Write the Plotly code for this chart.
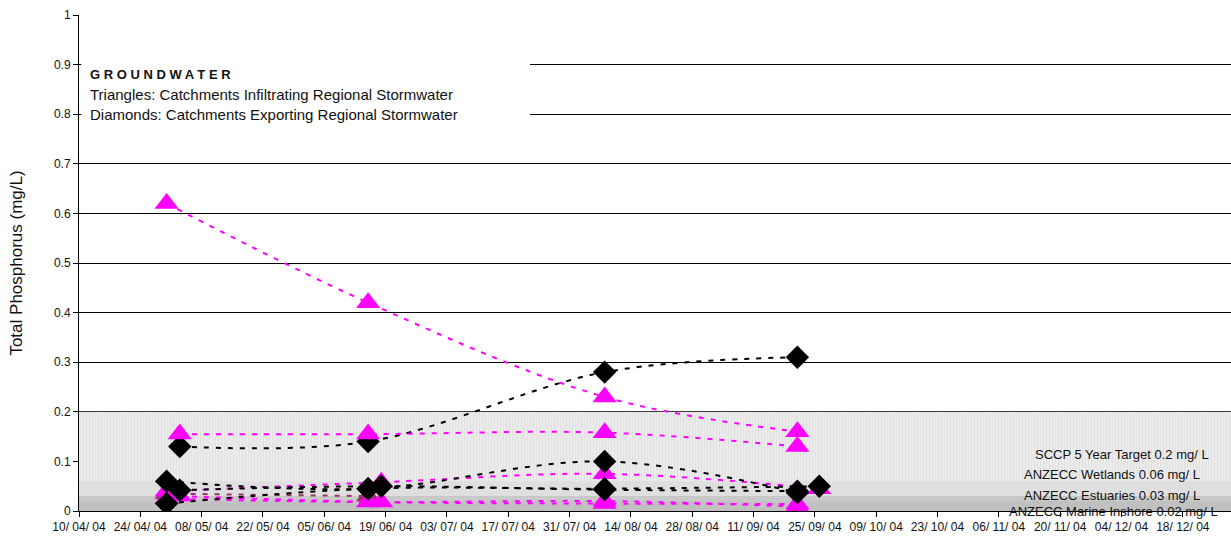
import plotly.graph_objects as go

# ---------------- data ----------------
# sampling dates
d_a1, d_a2 = "2004-04-30", "2004-05-03"
d_b1, d_b2 = "2004-06-15", "2004-06-18"
d_c = "2004-08-08"
d_d1, d_d2 = "2004-09-21", "2004-09-26"

# Triangles: catchments infiltrating regional stormwater
tri1_dates = [d_a1, d_b1, d_c, d_d1]
tri1_tp = [0.62, 0.42, 0.23, 0.16]
tri2_dates = [d_a2, d_b1, d_c, d_d1]
tri2_tp = [0.155, 0.155, 0.158, 0.13]
tri3_dates = [d_a1, d_b2, d_c, d_d2]
tri3_tp = [0.04, 0.058, 0.075, 0.045]
tri4_dates = [d_a1, d_b1, d_c, d_d1]
tri4_tp = [0.025, 0.018, 0.02, 0.009]
tri5_dates = [d_a2, d_b2, d_c, d_d1]
tri5_tp = [0.03, 0.018, 0.015, 0.014]
tri6_dates = [d_a1, d_b1]
tri6_tp = [0.035, 0.03]

# Diamonds: catchments exporting regional stormwater
dia1_dates = [d_a2, d_b1, d_c, d_d1]
dia1_tp = [0.13, 0.14, 0.28, 0.31]
dia2_dates = [d_a1, d_b1, d_c, d_d1]
dia2_tp = [0.06, 0.045, 0.10, 0.037]
dia3_dates = [d_a2, d_b2, d_c, d_d1]
dia3_tp = [0.042, 0.05, 0.043, 0.04]
dia4_dates = [d_a1, d_b1, d_c, d_d2]
dia4_tp = [0.015, 0.045, 0.045, 0.05]

# guideline bands
guide_values = [0.2, 0.06, 0.03, 0.02]
guide_labels = ["SCCP 5 Year Target 0.2 mg/ L", "ANZECC Wetlands 0.06 mg/ L",
                "ANZECC Estuaries 0.03 mg/ L", "ANZECC Marine Inshore 0.02 mg/ L"]

x_range = ["2004-04-10", "2004-12-29"]
x_tick_dates = ["2004-04-10", "2004-04-24", "2004-05-08", "2004-05-22", "2004-06-05",
                "2004-06-19", "2004-07-03", "2004-07-17", "2004-07-31", "2004-08-14",
                "2004-08-28", "2004-09-11", "2004-09-25", "2004-10-09", "2004-10-23",
                "2004-11-06", "2004-11-20", "2004-12-04", "2004-12-18"]
x_tick_labels = ["10/ 04/ 04", "24/ 04/ 04", "08/ 05/ 04", "22/ 05/ 04", "05/ 06/ 04",
                 "19/ 06/ 04", "03/ 07/ 04", "17/ 07/ 04", "31/ 07/ 04", "14/ 08/ 04",
                 "28/ 08/ 04", "11/ 09/ 04", "25/ 09/ 04", "09/ 10/ 04", "23/ 10/ 04",
                 "06/ 11/ 04", "20/ 11/ 04", "04/ 12/ 04", "18/ 12/ 04"]

# ---------------- figure ----------------
FONT = "Liberation Sans, Arial, sans-serif"
MAG = "#FF00FF"
DASH = "5px,7px"

fig = go.Figure()

# bands
band_styles = [
    dict(fillcolor="#e9e9e9", fillpattern=dict(shape="|", fgcolor="#d6d6d6", bgcolor="#ebebeb", size=3, solidity=0.3)),
    dict(fillcolor="#dfdfdf"),
    dict(fillcolor="#c9c9c9", fillpattern=dict(shape=".", fgcolor="#bdbdbd", bgcolor="#cacaca", size=3, solidity=0.3)),
    dict(fillcolor="#c0c0c0"),
]
for val, st in zip(guide_values, band_styles):
    fig.add_trace(go.Scatter(x=x_range, y=[val, val], mode="lines", line=dict(width=0),
                             fill="tozeroy", hoverinfo="skip", **st))


def add_series(dates, vals, symbol, color, size):
    fig.add_trace(go.Scatter(
        x=dates, y=vals, mode="lines+markers",
        line=dict(color=color, width=2, dash=DASH, shape="spline", smoothing=1),
        marker=dict(symbol=symbol, color=color, size=size, line=dict(width=0)),
    ))


add_series(dia1_dates, dia1_tp, "diamond", "#000000", 18)
add_series(tri1_dates, tri1_tp, "triangle-up", MAG, 21)
add_series(tri2_dates, tri2_tp, "triangle-up", MAG, 21)
add_series(tri6_dates, tri6_tp, "triangle-up", "#993366", 21)
add_series(tri4_dates, tri4_tp, "triangle-up", MAG, 21)
add_series(tri5_dates, tri5_tp, "triangle-up", MAG, 21)
add_series(tri3_dates, tri3_tp, "triangle-up", MAG, 21)
add_series(dia4_dates, dia4_tp, "diamond", "#000000", 18)
add_series(dia3_dates, dia3_tp, "diamond", "#000000", 18)
add_series(dia2_dates, dia2_tp, "diamond", "#000000", 18)

# white text box behind the description
fig.add_shape(type="rect", xref="paper", yref="y", x0=0.002, x1=0.3915, y0=0.765, y1=0.935,
              fillcolor="white", line=dict(width=0), layer="above")

ann = [
    dict(text="<b>G R O U N D W A T E R</b>", y=0.88, size=13),
    dict(text="Triangles: Catchments Infiltrating Regional Stormwater", y=0.839, size=15),
    dict(text="Diamonds: Catchments Exporting Regional Stormwater", y=0.799, size=15),
]
for a in ann:
    fig.add_annotation(xref="paper", yref="paper", x=0.0078, y=a["y"], xanchor="left", yanchor="middle",
                       text=a["text"], showarrow=False, font=dict(family=FONT, size=a["size"], color="#111"))

label_pos = [(0.9055, 0.113), (0.8965, 0.073), (0.8965, 0.031), (0.898, -0.001)]
for lab, (px, py) in zip(guide_labels, label_pos):
    fig.add_annotation(xref="paper", yref="paper", x=px, y=py, xanchor="center", yanchor="middle",
                       text=lab, showarrow=False, font=dict(family=FONT, size=13, color="#111"))

fig.update_layout(
    width=1231, height=540,
    margin=dict(l=79, r=0, t=15, b=29),
    paper_bgcolor="white", plot_bgcolor="white",
    showlegend=False,
    font=dict(family=FONT, color="#111"),
    xaxis=dict(type="date", range=x_range, tickmode="array", tickvals=x_tick_dates,
               ticktext=x_tick_labels, ticks="outside", ticklen=5, tickcolor="black",
               showline=True, linecolor="black", linewidth=1, showgrid=False, zeroline=False,
               tickfont=dict(size=12, color="#111"), fixedrange=True),
    yaxis=dict(range=[0, 1], dtick=0.1, tick0=0, ticks="outside", ticklen=5, tickcolor="black",
               showline=True, linecolor="black", linewidth=1, showgrid=True, gridcolor="black",
               gridwidth=1, zeroline=False, tickfont=dict(size=12, color="#111"),
               title=dict(text="Total Phosphorus (mg/L)", font=dict(size=17, color="#111"), standoff=26)),
)

fig.write_html("out.html")
